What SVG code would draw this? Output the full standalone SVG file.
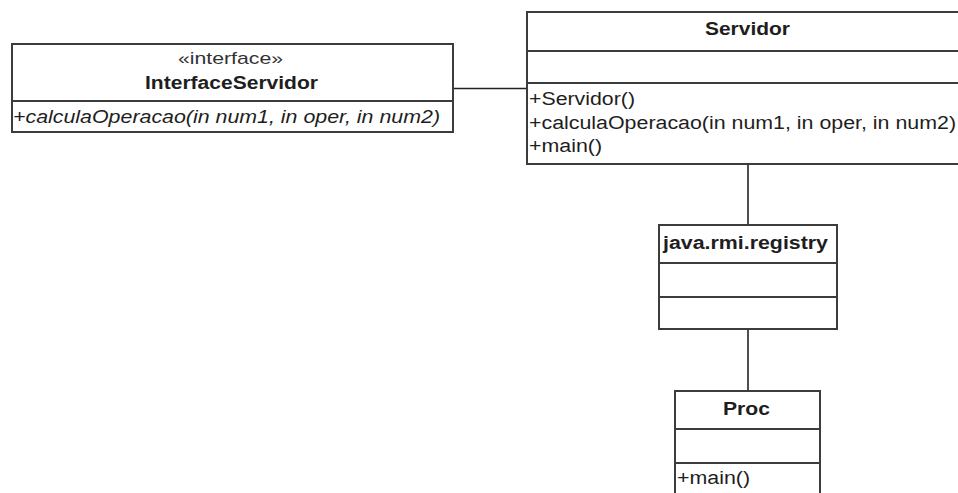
<svg xmlns="http://www.w3.org/2000/svg" width="958" height="493" viewBox="0 0 958 493">
  <style>
    .box { fill: #ffffff; stroke: #3c3c3c; stroke-width: 2; }
    .div { stroke: #3c3c3c; stroke-width: 2; }
    .link { stroke: #222222; stroke-width: 1.6; fill: none; }
    text { font-family: "Liberation Sans", Arial, sans-serif; font-size: 18px; fill: #1e1e1e; }
    .title { font-weight: bold; }
    .stereo { font-size: 17px; fill: #333333; }
    .abstract { font-style: italic; }
  </style>
  <rect width="958" height="493" fill="#ffffff"/>

  <!-- associations -->
  <g id="connectors">
    <line class="link" x1="453" y1="88.5" x2="527" y2="88.5"/>
    <line class="link" x1="748" y1="164" x2="748" y2="225"/>
    <line class="link" x1="748" y1="329" x2="748" y2="391"/>
  </g>

  <g id="InterfaceServidor">
    <rect class="box" x="12" y="44" width="441" height="88"/>
    <line class="div" x1="12" y1="101" x2="453" y2="101"/>
    <text class="stereo" x="178" y="64" textLength="105" lengthAdjust="spacingAndGlyphs">«interface»</text>
    <text class="title" x="145" y="89" textLength="173" lengthAdjust="spacingAndGlyphs">InterfaceServidor</text>
    <text class="abstract" x="13" y="123" textLength="427" lengthAdjust="spacingAndGlyphs">+calculaOperacao(in num1, in oper, in num2)</text>
  </g>

  <g id="Servidor">
    <rect class="box" x="527" y="12" width="434" height="152"/>
    <line class="div" x1="527" y1="51" x2="961" y2="51"/>
    <line class="div" x1="527" y1="83" x2="961" y2="83"/>
    <text class="title" x="705" y="35" textLength="85" lengthAdjust="spacingAndGlyphs">Servidor</text>
    <text x="529" y="105" textLength="106" lengthAdjust="spacingAndGlyphs">+Servidor()</text>
    <text x="529" y="128.5" textLength="427" lengthAdjust="spacingAndGlyphs">+calculaOperacao(in num1, in oper, in num2)</text>
    <text x="529" y="152" textLength="73" lengthAdjust="spacingAndGlyphs">+main()</text>
  </g>

  <g id="registry">
    <rect class="box" x="659" y="225" width="178" height="104"/>
    <line class="div" x1="659" y1="263" x2="837" y2="263"/>
    <line class="div" x1="659" y1="297" x2="837" y2="297"/>
    <text class="title" x="663" y="249" textLength="165" lengthAdjust="spacingAndGlyphs">java.rmi.registry</text>
  </g>

  <g id="Proc">
    <rect class="box" x="675" y="391" width="145" height="112"/>
    <line class="div" x1="675" y1="429" x2="820" y2="429"/>
    <line class="div" x1="675" y1="463" x2="820" y2="463"/>
    <text class="title" x="723" y="415" textLength="47" lengthAdjust="spacingAndGlyphs">Proc</text>
    <text x="677" y="484" textLength="73" lengthAdjust="spacingAndGlyphs">+main()</text>
  </g>
</svg>
